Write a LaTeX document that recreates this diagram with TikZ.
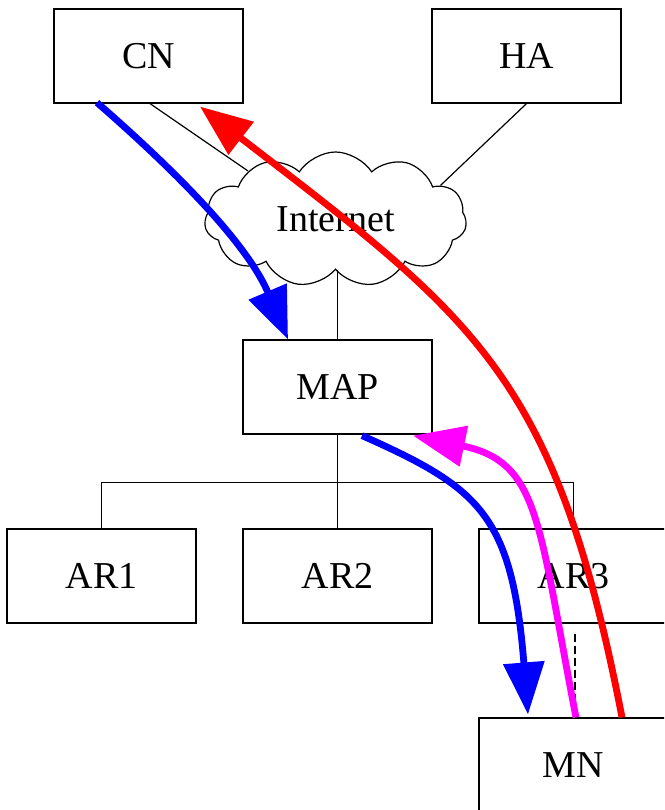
\documentclass[tikz,border=0pt]{standalone}
\usepackage{fontspec}
\setmainfont{Liberation Serif}
\usetikzlibrary{shapes.symbols,arrows.meta,calc}
\definecolor{fred}{RGB}{255,0,0}
\definecolor{fblue}{RGB}{0,0,255}
\definecolor{fmag}{RGB}{255,0,255}
\begin{document}
\begin{tikzpicture}[x=1pt,y=-1pt,
  box/.style={draw,line width=1.2pt,minimum width=189pt,minimum height=94pt,inner sep=0pt,font=\fontsize{38}{40}\selectfont},
  link/.style={line width=1.2pt},
  flow/.style={line width=6.8pt,-{Triangle[length=52pt,width=40pt]}}]
\useasboundingbox (0,0) rectangle (664,810);
\clip (0,0) rectangle (664,810);
\fill[white] (0,0) rectangle (664,810);
% nodes
\node[box] (CN) at (148.5,56) {CN};
\node[box] (HA) at (526.5,56) {HA};
\node[draw,cloud,cloud puffs=11,cloud puff arc=115,aspect=1.9,line width=1.2pt,
      minimum width=262pt,minimum height=135pt,inner sep=0pt,
      font=\fontsize{38}{40}\selectfont] (inet) at (335.5,219.5) {Internet};
\node[box] (MAP) at (337.5,387) {MAP};
\node[box] (AR1) at (101.5,576) {AR1};
\node[box] (AR2) at (337.5,576) {AR2};
\node[box] (AR3) at (573.5,576) {AR3};
\node[box] (MN) at (573.5,765) {MN};
% links
\draw[link] ($(CN.south)+(1.5,0)$) -- (inet.151);
\draw[link] (HA.south) -- (inet.18);
\draw[link] (MAP.north |- inet.south) -- (MAP.north);
\coordinate (bus) at ($(MAP.south)+(0,48)$);
\draw[link] (MAP.south) -- (bus) -- (AR2.north);
\draw[link] (AR1.north) |- (AR3.north |- bus) -- (AR3.north);
\draw[link,dash pattern=on 8pt off 4pt] ($(AR3.south)+(1.5,10)$) -- ($(MN.north)+(1.5,-18)$);
% flows
\draw[flow,fblue] ($(CN.south)+(-51.5,-1)$) .. controls (187,181) and (249,248) .. ($(MAP.north)+(-49.5,0)$);
\draw[flow,fblue] ($(MAP.south)+(24.5,1)$) .. controls (480,488) and (512,515) .. ($(MN.north)+(-45.5,-3)$);
\draw[flow,fmag] ($(MN.north)+(2.5,0)$) .. controls (538,522) and (540,462) .. ($(MAP.south)+(75.5,1)$);
\draw[flow,fred] ($(MN.north)+(48.5,0)$) .. controls (555.5,375) and (476.5,319.5) .. ($(CN.south)+(51.5,3)$);
\end{tikzpicture}
\end{document}
